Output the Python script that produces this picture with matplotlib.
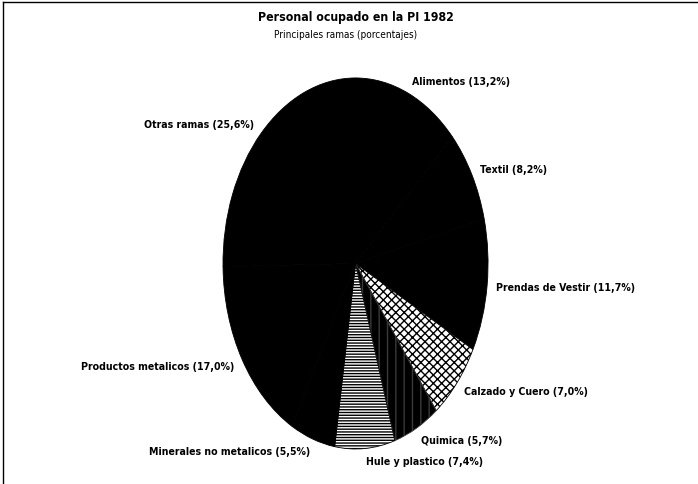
import numpy as np
import matplotlib
matplotlib.use('Agg')
import matplotlib.pyplot as plt
from matplotlib.lines import Line2D

plt.rcParams['font.family'] = ['Liberation Sans Narrow', 'DejaVu Sans']
plt.rcParams['font.stretch'] = 'condensed'

ramas = ['Alimentos', 'Textil', 'Prendas de Vestir', 'Calzado y Cuero', 'Quimica',
         'Hule y plastico', 'Minerales no metalicos', 'Productos metalicos', 'Otras ramas']
porcentajes = [13.2, 8.2, 11.7, 7.0, 5.7, 7.4, 5.5, 17.0, 25.6]
etiquetas = ['%s (%s%%)' % (r, ('%.1f' % p).replace('.', ',')) for r, p in zip(ramas, porcentajes)]

fig = plt.figure(figsize=(6.98, 4.85), dpi=100)
fig.patch.set_facecolor('white')

# elliptical pie: axes not square, aspect left on auto
ax = fig.add_axes([0.3195, 0.0722, 0.3797, 0.765])
wedges, texts = ax.pie(porcentajes, labels=etiquetas, startangle=90, counterclock=False,
                       colors=['black'] * len(porcentajes), labeldistance=1.07,
                       wedgeprops=dict(linewidth=0.6, edgecolor='black'),
                       textprops=dict(fontsize=7.6, fontweight='bold'))
ax.set_aspect('auto')
ax.set_xlim(-1, 1)
ax.set_ylim(-1, 1)

# textures that survived the scan
wedges[3].set_facecolor('white')
wedges[3].set_hatch('xxxx')
wedges[4].set_edgecolor('#3a3a3a')
wedges[4].set_hatch('||')
wedges[5].set_facecolor('white')
wedges[5].set_hatch('------')

fig.text(0.51, 0.963, 'Personal ocupado en la PI 1982', ha='center', va='center',
         fontsize=8.8, fontweight='bold')
fig.text(0.495, 0.927, 'Principales ramas (porcentajes)', ha='center', va='center',
         fontsize=7.2, fontweight='medium')

# frame of the scanned chart
fig.add_artist(Line2D([0.004, 1.0], [0.994, 0.994], transform=fig.transFigure, color='black', lw=1))
fig.add_artist(Line2D([0.004, 0.004], [0.0, 0.994], transform=fig.transFigure, color='black', lw=1))

fig.savefig('out.png', dpi=100)
